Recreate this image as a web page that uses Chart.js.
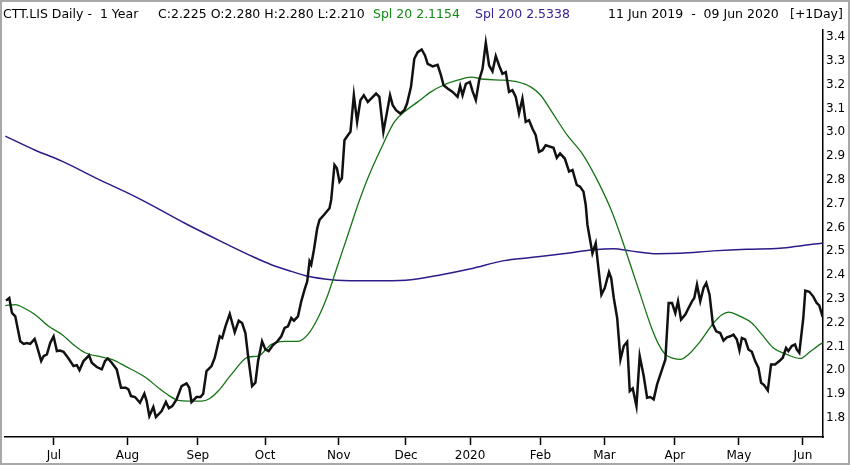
<!DOCTYPE html>
<html>
<head>
<meta charset="utf-8">
<script src="https://cdn.jsdelivr.net/npm/chart.js@4/dist/chart.umd.min.js"></script>
<style>
  html, body { margin: 0; padding: 0; background: #fff; }
  #wrap { position: relative; width: 850px; height: 465px; box-sizing: border-box; border: 2px solid #a8a8a8; overflow: hidden; }
  #c { position: absolute; left: -2px; top: -2px; }
  .hdr { position: absolute; top: 4px; font-family: "DejaVu Sans", sans-serif; font-size: 12.5px; line-height: 16px; color: #000; white-space: pre; }
</style>
</head>
<body>
<div id="wrap">
  <canvas id="c" width="850" height="465"></canvas>
  <span class="hdr" style="left:1px">CTT.LIS Daily -  1 Year</span>
  <span class="hdr" style="left:156px">C:2.225 O:2.280 H:2.280 L:2.210</span>
  <span class="hdr" style="left:371px;color:#138a13">Spl 20 2.1154</span>
  <span class="hdr" style="left:473px;color:#3a2290">Spl 200 2.5338</span>
  <span class="hdr" style="left:606px">11 Jun 2019  -  09 Jun 2020</span>
  <span class="hdr" style="left:788px">[+1Day]</span>
</div>
<script>
// x = trading-day index from 11 Jun 2019
const monthTicks = [14, 37, 59, 80, 103, 124, 144, 166, 186, 208, 228, 248];
const monthLabels = ['Jul','Aug','Sep','Oct','Nov','Dec','2020','Feb','Mar','Apr','May','Jun'];
const priceTicks = [1.8,1.9,2.0,2.1,2.2,2.3,2.4,2.5,2.6,2.7,2.8,2.9,3.0,3.1,3.2,3.3,3.4];

const closeDays = [-0.96,0.07,0.91,1.94,3.50,4.56,5.59,6.62,7.99,8.70,10.04,10.79,11.82,12.85,13.91,14.94,15.96,17.02,18.58,20.14,21.17,22.01,23.26,25.00,25.84,27.40,28.96,29.99,30.83,32.08,33.63,34.97,36.44,37.28,38.09,39.34,40.89,42.26,42.98,43.82,45.07,45.88,47.66,49.00,49.93,50.99,52.33,53.89,55.45,56.29,57.00,58.56,59.81,60.65,61.68,63.24,64.26,65.82,66.57,67.60,68.94,70.50,71.74,72.80,73.83,74.67,75.92,76.95,77.79,79.04,80.06,81.09,82.46,83.80,85.05,86.08,87.14,88.17,89.01,90.26,91.28,92.31,93.15,93.87,94.40,95.24,96.27,96.98,98.54,100.10,100.63,101.66,102.41,103.22,103.97,104.78,105.84,106.65,107.71,108.73,109.76,110.82,112.07,113.10,114.65,115.68,116.93,118.08,119.02,119.86,120.89,122.23,123.48,124.32,125.56,126.59,127.65,128.90,129.93,130.77,132.33,133.88,134.91,135.75,137.00,138.56,140.11,140.92,141.67,142.70,143.95,144.79,145.82,146.85,147.91,148.93,149.96,151.02,152.05,153.08,154.14,155.17,156.19,157.25,158.28,159.31,160.37,161.40,162.43,163.49,164.52,165.55,166.61,167.64,170.08,171.11,172.14,173.61,174.95,176.01,177.35,178.38,179.44,180.15,180.68,181.50,182.24,183.27,183.99,185.05,186.08,187.42,188.10,188.91,189.97,191.00,192.03,193.09,193.90,194.83,195.99,197.01,198.26,199.32,200.35,201.38,202.44,204.00,205.03,206.05,207.11,208.14,208.98,209.92,211.26,212.28,213.34,214.06,214.90,215.93,216.96,217.80,218.83,219.89,220.91,222.16,223.19,224.25,225.28,226.30,227.36,228.17,228.92,229.95,230.98,232.04,233.07,234.09,234.94,235.87,237.02,238.05,239.30,240.64,241.70,242.73,243.45,244.51,245.53,246.06,246.87,248.12,248.74,250.00,251.24,252.29,253.10,254.16];
const closeVals = [2.293,2.304,2.241,2.227,2.122,2.111,2.115,2.111,2.132,2.102,2.039,2.060,2.067,2.115,2.143,2.081,2.083,2.078,2.050,2.018,2.022,2.001,2.039,2.063,2.032,2.014,2.004,2.039,2.050,2.032,2.004,1.927,1.927,1.920,1.892,1.888,1.864,1.902,1.871,1.808,1.846,1.804,1.829,1.867,1.841,1.850,1.878,1.934,1.945,1.927,1.867,1.888,1.888,1.902,1.997,2.018,2.053,2.143,2.136,2.185,2.237,2.160,2.209,2.199,2.157,2.060,1.934,1.948,2.039,2.122,2.088,2.081,2.106,2.122,2.143,2.178,2.185,2.220,2.209,2.227,2.290,2.339,2.374,2.458,2.444,2.507,2.597,2.632,2.656,2.681,2.716,2.863,2.849,2.793,2.807,2.967,2.988,3.002,3.156,3.044,3.135,3.156,3.128,3.142,3.163,3.149,3.002,3.086,3.156,3.114,3.093,3.079,3.093,3.121,3.191,3.309,3.337,3.348,3.323,3.288,3.277,3.284,3.240,3.198,3.184,3.170,3.149,3.195,3.156,3.204,3.212,3.173,3.135,3.219,3.267,3.376,3.281,3.256,3.320,3.281,3.246,3.253,3.170,3.177,3.149,3.079,3.142,3.044,3.051,3.016,2.988,2.918,2.925,2.946,2.935,2.893,2.911,2.890,2.835,2.842,2.779,2.772,2.751,2.695,2.611,2.549,2.492,2.534,2.444,2.318,2.346,2.413,2.388,2.304,2.220,2.046,2.102,2.120,1.913,1.924,1.850,2.060,1.976,1.885,1.888,1.878,1.941,2.004,2.046,2.283,2.283,2.241,2.290,2.213,2.234,2.262,2.290,2.304,2.360,2.290,2.346,2.367,2.318,2.192,2.164,2.157,2.125,2.139,2.143,2.150,2.130,2.084,2.136,2.130,2.088,2.078,2.039,2.011,1.948,1.938,1.916,2.025,2.025,2.039,2.053,2.094,2.081,2.102,2.109,2.088,2.074,2.220,2.335,2.330,2.310,2.283,2.273,2.225];

const spl20Days = [-1.17,1.94,5.06,8.17,12.35,16.49,20.64,23.75,28.96,32.08,36.22,42.45,46.63,49.74,52.86,55.98,60.12,62.71,65.32,69.47,74.67,77.79,80.91,81.94,86.08,90.26,93.37,96.49,99.60,102.72,105.84,108.95,112.07,116.21,120.36,123.48,127.65,131.80,135.94,140.11,144.26,148.40,154.63,158.81,162.95,166.07,170.22,174.37,179.05,183.19,187.87,190.99,194.10,197.21,200.35,202.93,205.03,207.61,209.70,212.28,215.93,220.07,222.69,224.75,228.39,232.04,235.15,238.77,242.94,247.09,250.20,253.32,254.16];
const spl20Vals = [2.272,2.276,2.259,2.234,2.185,2.151,2.102,2.074,2.056,2.046,2.018,1.972,1.927,1.896,1.874,1.871,1.871,1.882,1.913,1.983,2.056,2.060,2.097,2.109,2.122,2.122,2.151,2.220,2.318,2.444,2.569,2.695,2.807,2.932,3.044,3.086,3.128,3.170,3.200,3.219,3.232,3.223,3.219,3.212,3.191,3.156,3.072,2.988,2.911,2.814,2.681,2.569,2.444,2.318,2.192,2.109,2.067,2.050,2.046,2.067,2.122,2.199,2.234,2.245,2.227,2.199,2.151,2.094,2.067,2.050,2.078,2.109,2.115];

const spl200Days = [-1.17,8.17,16.49,28.96,36.22,42.45,54.92,66.35,76.73,81.94,88.17,93.37,100.63,108.95,117.24,125.56,133.88,144.26,154.63,162.95,174.37,182.67,188.91,194.10,202.44,209.70,220.07,230.44,240.81,248.12,253.32,254.16];
const spl200Vals = [2.984,2.925,2.879,2.796,2.751,2.709,2.618,2.541,2.474,2.444,2.416,2.395,2.381,2.377,2.377,2.381,2.399,2.427,2.461,2.474,2.492,2.507,2.511,2.502,2.490,2.492,2.502,2.509,2.513,2.525,2.533,2.534];

const pairs = (xs, ys) => xs.map((x, i) => ({x: x, y: ys[i]}));

new Chart(document.getElementById('c'), {
  type: 'line',
  data: {
    datasets: [
      { label: 'CTT.LIS', data: pairs(closeDays, closeVals), borderColor: '#111111', borderWidth: 2.5, pointRadius: 0, tension: 0, order: 0 },
      { label: 'Spl 20', data: pairs(spl20Days, spl20Vals), borderColor: '#167416', borderWidth: 1.3, pointRadius: 0, tension: 0.4, cubicInterpolationMode: 'monotone', order: 1 },
      { label: 'Spl 200', data: pairs(spl200Days, spl200Vals), borderColor: '#2f1a8a', borderWidth: 1.5, pointRadius: 0, tension: 0.4, cubicInterpolationMode: 'monotone', order: 2 }
    ]
  },
  options: {
    responsive: false,
    animation: false,
    devicePixelRatio: 1,
    layout: { padding: { left: 5, top: 30, right: 0, bottom: 0 } },
    plugins: { legend: { display: false }, tooltip: { enabled: false }, title: { display: false } },
    scales: {
      x: {
        type: 'linear',
        min: -1.27,
        max: 254.27,
        afterBuildTicks: (s) => { s.ticks = monthTicks.map(v => ({ value: v })); },
        afterFit: (s) => { s.height = 28; },
        ticks: {
          autoSkip: false, maxRotation: 0, minRotation: 0, padding: 4, color: '#000',
          font: { family: 'DejaVu Sans', size: 12 },
          callback: (v) => { const k = monthTicks.indexOf(v); return k >= 0 ? monthLabels[k] : ''; }
        },
        grid: { drawOnChartArea: false, drawTicks: true, tickLength: 8, tickColor: '#000', tickWidth: 1.5 },
        border: { display: true, color: '#000', width: 1.5 }
      },
      y: {
        position: 'right',
        min: 1.72,
        max: 3.43,
        afterBuildTicks: (s) => { s.ticks = priceTicks.map(v => ({ value: v })); },
        afterFit: (s) => { s.width = 27; },
        ticks: {
          padding: 3, color: '#000',
          font: { family: 'DejaVu Sans', size: 12 },
          callback: (v) => v.toFixed(1)
        },
        grid: { drawOnChartArea: false, drawTicks: false },
        border: { display: true, color: '#000', width: 1.5 }
      }
    }
  }
});
</script>
</body>
</html>
